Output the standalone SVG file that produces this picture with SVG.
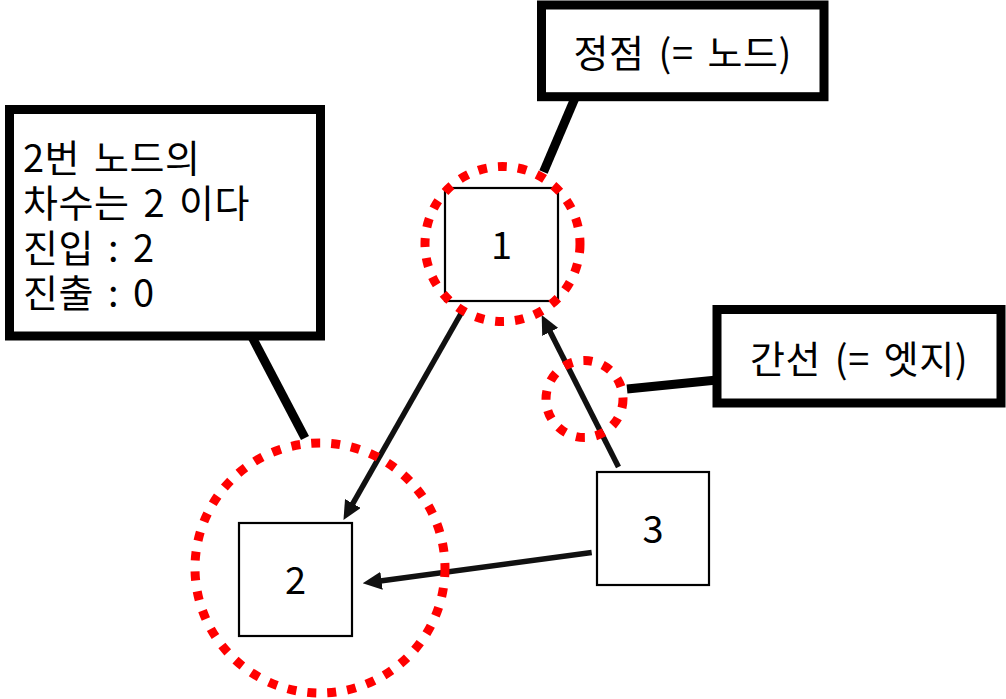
<svg xmlns="http://www.w3.org/2000/svg" width="1006" height="699" viewBox="0 0 1006 699">
  <style>
    .node { fill: #ffffff; stroke: #000000; stroke-width: 2.2; }
    .callout { fill: #ffffff; stroke: #000000; stroke-width: 9; }
    .lbl { font-family: "Noto Sans CJK KR", "Noto Sans", sans-serif; font-size: 38px; fill: #000000; }
    .big { font-size: 38px; letter-spacing: 0.5px; word-spacing: 5px; }
    .edge { fill: none; stroke: #111111; stroke-width: 5.5; }
    .leader { fill: none; stroke: #000000; stroke-width: 9; }
    .mark { fill: none; stroke: #ff0000; stroke-width: 9; stroke-dasharray: 9 11; }
  </style>
  <defs>
    <marker id="arrow" markerUnits="userSpaceOnUse" markerWidth="19" markerHeight="18" refX="7" refY="9" orient="auto">
      <path d="M0,0 L19,9 L0,18 z" fill="#111111"/>
    </marker>
  </defs>
  <rect x="0" y="0" width="1006" height="699" fill="#ffffff"/>

  <g id="node-1">
    <rect class="node" x="445" y="188" width="113" height="113"/>
    <text class="lbl" x="501.5" y="259" text-anchor="middle">1</text>
  </g>
  <g id="node-2">
    <rect class="node" x="239" y="523" width="113" height="113"/>
    <text class="lbl" x="295.5" y="594" text-anchor="middle">2</text>
  </g>
  <g id="node-3">
    <rect class="node" x="597" y="472" width="112" height="113"/>
    <text class="lbl" x="653" y="543" text-anchor="middle">3</text>
  </g>

  <g id="connectors">
    <line class="edge" x1="463" y1="310" x2="349.4" y2="509.6" marker-end="url(#arrow)"/>
    <line class="edge" x1="618.5" y1="467" x2="547.1" y2="325.7" marker-end="url(#arrow)"/>
    <line class="edge" x1="591.7" y1="552.5" x2="374.6" y2="581.7" marker-end="url(#arrow)"/>
    <line class="leader" x1="575" y1="98" x2="543.5" y2="172"/>
    <line class="leader" x1="627" y1="389" x2="717" y2="380"/>
    <line class="leader" x1="251.5" y1="336" x2="305" y2="438"/>
  </g>

  <g id="highlights">
    <circle class="mark" cx="502.5" cy="244" r="77.5"/>
    <circle class="mark" cx="320" cy="568" r="125"/>
    <circle class="mark" cx="584.5" cy="399" r="38.5"/>
  </g>

  <g id="callout-vertex">
    <rect class="callout" x="541.5" y="5" width="282.5" height="91.7"/>
    <text class="lbl big" x="682.7" y="50" text-anchor="middle" dominant-baseline="central">정점 (= 노드)</text>
  </g>
  <g id="callout-edge">
    <rect class="callout" x="717" y="309.5" width="284" height="93.5"/>
    <text class="lbl big" x="859" y="356" text-anchor="middle" dominant-baseline="central">간선 (= 엣지)</text>
  </g>
  <g id="callout-degree">
    <rect class="callout" x="9.5" y="109.5" width="311" height="226.5"/>
    <text class="lbl big" x="23" y="155" dominant-baseline="central">2번 노드의</text>
    <text class="lbl big" x="23" y="200" dominant-baseline="central">차수는 2 이다</text>
    <text class="lbl big" x="23" y="245" dominant-baseline="central">진입 : 2</text>
    <text class="lbl big" x="23" y="290" dominant-baseline="central">진출 : 0</text>
  </g>
</svg>
